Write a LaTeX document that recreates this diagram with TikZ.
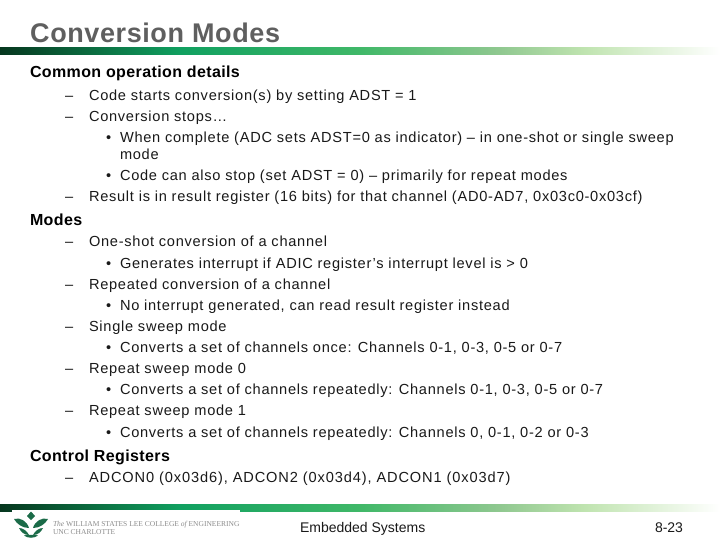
\documentclass[tikz,border=0pt]{standalone}
\usepackage{fontspec}
\setmainfont{Liberation Sans}
\newfontfamily\spbody[LetterSpace=5.0]{Liberation Sans}
\newfontfamily\spbodyb[LetterSpace=6.0]{Liberation Sans}
\newfontfamily\sphead[LetterSpace=2.4]{Liberation Sans}
\newfontfamily\sptitle[LetterSpace=2.2]{Liberation Sans}
\newfontfamily\lgser{Liberation Serif}
\definecolor{gd}{HTML}{06371F}
\definecolor{gm}{HTML}{10A060}
\definecolor{gn}{HTML}{40B868}
\definecolor{go}{HTML}{90C890}
\definecolor{gl}{HTML}{C0E4B0}
\definecolor{tg}{HTML}{5F5F5F}
\definecolor{lg}{HTML}{1B6B48}
\tikzset{
 txt/.style={anchor=base west,inner sep=0pt,outer sep=0pt,font=\spbody\fontsize{14.6}{16}\selectfont,text=black!90},
 foot/.style={anchor=base west,inner sep=0pt,outer sep=0pt,font=\fontsize{14}{16}\selectfont,text=black!90},
 head/.style={anchor=base west,inner sep=0pt,outer sep=0pt,font=\sphead\fontsize{16}{18}\selectfont\bfseries,text=black},
 logot/.style={anchor=base west,inner sep=0pt,outer sep=0pt,font=\lgser\fontsize{7.5}{8}\selectfont,text=black!45},
 leaf/.style={fill=lg,draw=none}
}
\begin{document}
\begin{tikzpicture}[x=1pt,y=-1pt]
\useasboundingbox (0,0) rectangle (720,540);
\fill[white] (0,0) rectangle (720,540);
% bars
\foreach \ya/\yb in {48/54.5,504/511}{
\fill[left color=gd,right color=gm] (0,\ya) rectangle (180.2,\yb);
\fill[left color=gm,right color=gn] (180,\ya) rectangle (360.2,\yb);
\fill[left color=gn,right color=go] (360,\ya) rectangle (500.2,\yb);
\fill[left color=go,right color=gl] (500,\ya) rectangle (585.2,\yb);
\fill[left color=gl,right color=white] (585,\ya) rectangle (720,\yb);
}
\fill[white] (12,510) rectangle (240,540);
% title
\node[anchor=base west,inner sep=0pt,text=tg,font=\sptitle\fontsize{27}{30}\selectfont\bfseries] (title) at (30,42.5) {Conversion Modes};
% body
\node[head] (h1) at (30,78) {Common operation details};
\node[txt] at (65,101) {–}; \node[txt] at (89,101) {Code starts conversion(s) by setting ADST = 1};
\node[txt] at (65,122) {–}; \node[txt] at (89,122) {Conversion stops…};
\node[txt] at (106,143) {•}; \node[txt] at (120,143) {When complete (ADC sets ADST=0 as indicator) – in one-shot or single sweep};
\node[txt] at (120,160) {mode};
\node[txt] at (106,181) {•}; \node[txt] at (120,181) {Code can also stop (set ADST = 0) – primarily for repeat modes};
\node[txt] at (65,202) {–}; \node[txt] at (89,202) {Result is in result register (16 bits) for that channel (AD0-AD7, 0x03c0-0x03cf)};
\node[head] (h2) at (30,225.5) {Modes};
\node[txt] at (65,247) {–}; \node[txt] at (89,247) {One-shot conversion of a channel};
\node[txt] at (106,268) {•}; \node[txt] at (120,268) {Generates interrupt if ADIC register’s interrupt level is > 0};
\node[txt] at (65,289) {–}; \node[txt] at (89,289) {Repeated conversion of a channel};
\node[txt] at (106,310) {•}; \node[txt] at (120,310) {No interrupt generated, can read result register instead};
\node[txt] at (65,331) {–}; \node[txt] at (89,331) {Single sweep mode};
\node[txt] at (106,352) {•}; \node[txt] at (120,352) {Converts a set of channels once: Channels 0-1, 0-3, 0-5 or 0-7};
\node[txt] at (65,373) {–}; \node[txt] at (89,373) {Repeat sweep mode 0};
\node[txt] at (106,394) {•}; \node[txt] at (120,394) {Converts a set of channels repeatedly: Channels 0-1, 0-3, 0-5 or 0-7};
\node[txt] at (65,415) {–}; \node[txt] at (89,415) {Repeat sweep mode 1};
\node[txt] at (106,437) {•}; \node[txt] at (120,437) {Converts a set of channels repeatedly: Channels 0, 0-1, 0-2 or 0-3};
\node[head] (h3) at (30,461) {Control Registers};
\node[txt] at (65,482) {–}; \node[txt,font=\spbodyb\fontsize{14.6}{16}\selectfont] at (89,482) {ADCON0 (0x03d6), ADCON2 (0x03d4), ADCON1 (0x03d7)};
% footer
\node[foot] (ft) at (300,532) {Embedded Systems};
\node[foot] (pg) at (655,532) {8-23};
% logo
\fill[leaf] (31,511.5) -- (35,516) -- (31,520) -- (27,516) -- cycle;
\fill[leaf] (14,519) .. controls (20,517) and (27,521) .. (29,528) .. controls (22,528) and (17,524) .. cycle;
\fill[leaf] (48,519) .. controls (42,517) and (35,521) .. (33,528) .. controls (40,528) and (45,524) .. cycle;
\fill[leaf] (19,528) .. controls (23,528) and (27,531) .. (29,535) .. controls (24,535) and (21,532) .. cycle;
\fill[leaf] (43,528) .. controls (39,528) and (35,531) .. (33,535) .. controls (38,535) and (41,532) .. cycle;
\fill[leaf] (24,535.5) .. controls (28,534.5) and (34,534.5) .. (38,535.5) .. controls (34,538.5) and (28,538.5) .. cycle;
\node[logot] at (53,526) {\itshape The \upshape WILLIAM STATES LEE COLLEGE \itshape of \upshape ENGINEERING};
\node[logot] at (53,534.5) {UNC CHARLOTTE};
\end{tikzpicture}
\end{document}
